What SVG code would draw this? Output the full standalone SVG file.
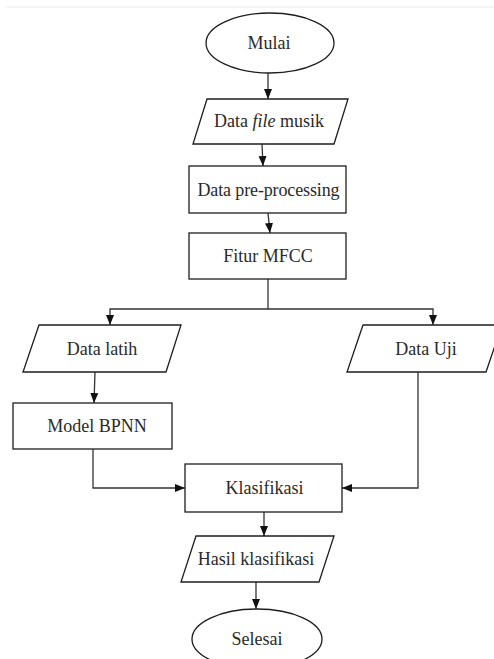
<svg xmlns="http://www.w3.org/2000/svg" width="494" height="659" viewBox="0 0 494 659">
  <defs>
    <marker id="arr" markerUnits="userSpaceOnUse" markerWidth="10" markerHeight="10" viewBox="0 0 10 10" refX="10" refY="5" orient="auto">
      <path d="M0,1 L10,5 L0,9 Z" fill="#111"/>
    </marker>
    <style>
      .shape { fill: #fff; stroke: #1e1e1e; stroke-width: 1.3; }
      .conn { fill: none; stroke: #333; stroke-width: 1.3; }
      .lbl { font-family: "Liberation Serif", "Times New Roman", serif; font-size: 18px; fill: #2a2a2a; text-anchor: middle; }
    </style>
  </defs>
  <rect x="0" y="0" width="494" height="659" fill="#fff"/>
  <line x1="5" y1="7" x2="494" y2="7" stroke="#ececec" stroke-width="1"/>

  <g id="connectors">
    <line class="conn" x1="268" y1="73" x2="268" y2="99" marker-end="url(#arr)"/>
    <line class="conn" x1="262" y1="144" x2="263" y2="166" marker-end="url(#arr)"/>
    <line class="conn" x1="268" y1="213" x2="270" y2="233" marker-end="url(#arr)"/>
    <polyline class="conn" points="268,279 268,309"/>
    <polyline class="conn" points="268,309 110,309 110,325" marker-end="url(#arr)"/>
    <polyline class="conn" points="268,309 433,309 433,325" marker-end="url(#arr)"/>
    <line class="conn" x1="95" y1="372" x2="94" y2="403" marker-end="url(#arr)"/>
    <polyline class="conn" points="93,449 93,488 185,488" marker-end="url(#arr)"/>
    <polyline class="conn" points="418,372 418,488 342,488" marker-end="url(#arr)"/>
    <line class="conn" x1="264" y1="512" x2="264" y2="536" marker-end="url(#arr)"/>
    <line class="conn" x1="256" y1="582" x2="256" y2="609" marker-end="url(#arr)"/>
  </g>

  <g id="mulai">
    <ellipse class="shape" cx="270" cy="43" rx="64" ry="30"/>
    <text class="lbl" x="269" y="49">Mulai</text>
  </g>
  <g id="data-file-musik">
    <polygon class="shape" points="207,99 348,99 334,144 193,144"/>
    <text class="lbl" x="269" y="127">Data <tspan font-style="italic">file</tspan> musik</text>
  </g>
  <g id="data-pre-processing">
    <rect class="shape" x="189" y="166" width="157" height="47"/>
    <text class="lbl" x="268.5" y="196" textLength="142" lengthAdjust="spacing">Data pre-processing</text>
  </g>
  <g id="fitur-mfcc">
    <rect class="shape" x="189" y="233" width="157" height="46"/>
    <text class="lbl" x="268" y="262">Fitur MFCC</text>
  </g>
  <g id="data-latih">
    <polygon class="shape" points="39,325 181,325 166,372 23,372"/>
    <text class="lbl" x="102" y="355">Data latih</text>
  </g>
  <g id="data-uji">
    <polygon class="shape" points="363,325 502,325 486,372 347,372"/>
    <text class="lbl" x="426" y="355">Data Uji</text>
  </g>
  <g id="model-bpnn">
    <rect class="shape" x="13" y="403" width="159" height="46"/>
    <text class="lbl" x="97" y="432">Model BPNN</text>
  </g>
  <g id="klasifikasi">
    <rect class="shape" x="185" y="464" width="157" height="48"/>
    <text class="lbl" x="264.5" y="494">Klasifikasi</text>
  </g>
  <g id="hasil-klasifikasi">
    <polygon class="shape" points="196,536 334,536 319,582 181,582"/>
    <text class="lbl" x="256" y="565">Hasil klasifikasi</text>
  </g>
  <g id="selesai">
    <ellipse class="shape" cx="257" cy="639" rx="65" ry="30"/>
    <text class="lbl" x="257" y="645">Selesai</text>
  </g>
</svg>
